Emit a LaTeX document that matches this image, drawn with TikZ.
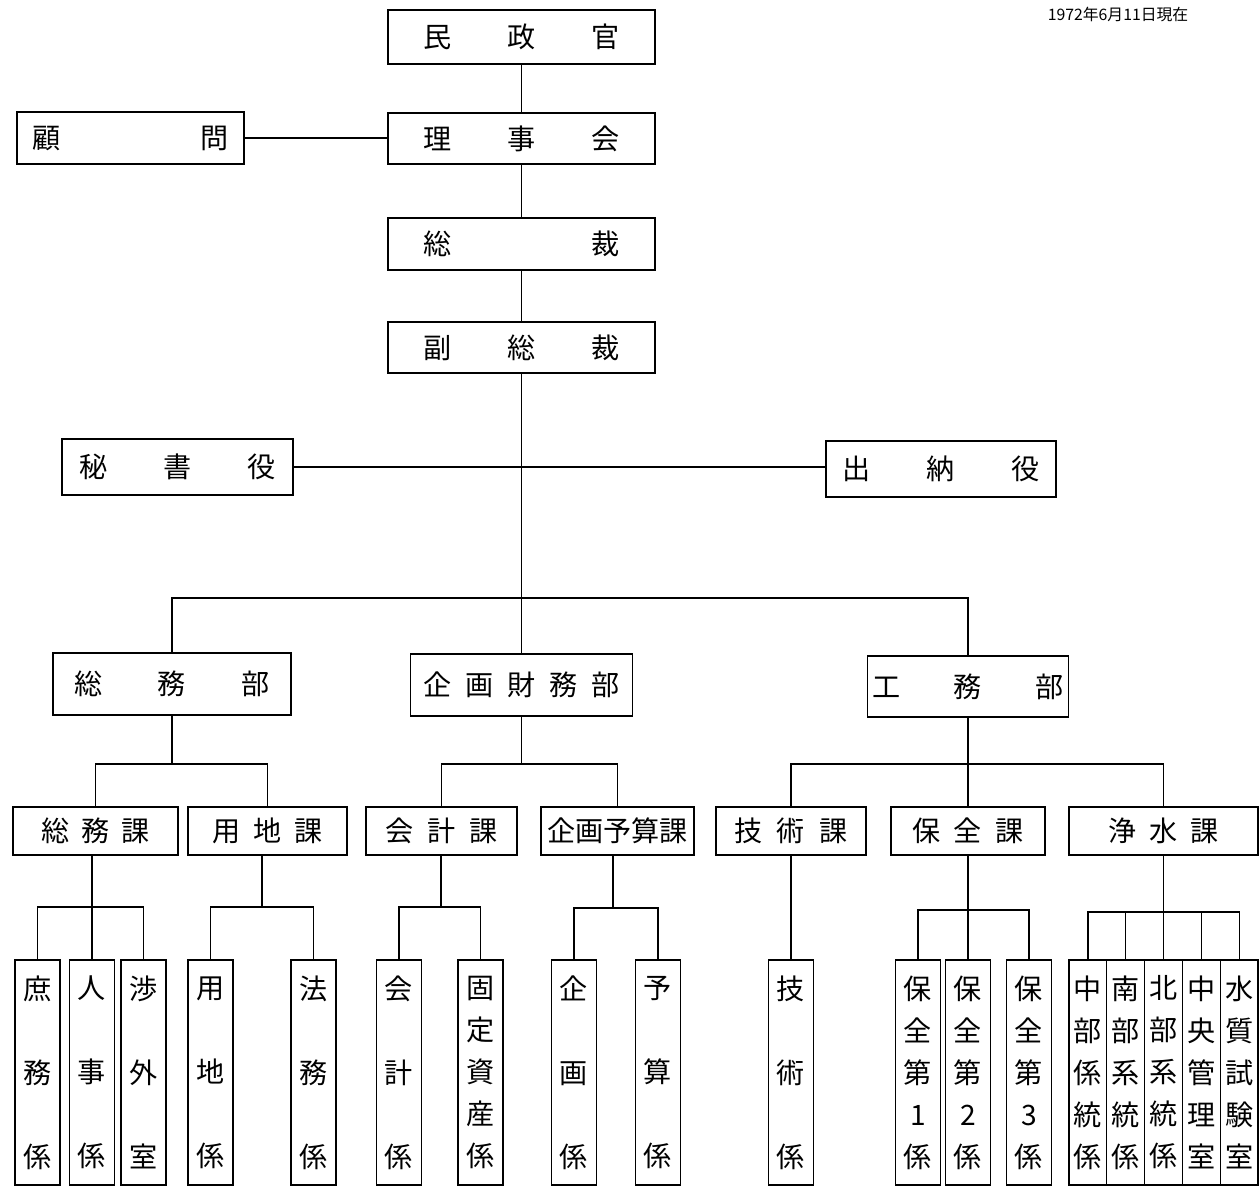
\documentclass[tikz,border=0pt]{standalone}
\usepackage{fontspec}
\setmainfont{Noto Sans CJK JP}
\newcommand{\sprd}[2]{\makebox[#1][s]{#2}}
\tikzset{
  unit/.style={draw, line width=0.7pt, inner sep=0pt, font=\fontsize{16}{19}\selectfont},
  kakari/.style={unit, minimum width=0.9cm, minimum height=4.5cm, align=center, font=\fontsize{16}{47.8}\selectfont},
  kakarifive/.style={kakari, font=\fontsize{16}{23.9}\selectfont},
  wire/.style={line width=0.7pt},
}
\begin{document}
\begin{tikzpicture}[x=0.02cm, y=-0.02cm]
  \useasboundingbox (0,0) rectangle (1260,1188);
  \node[font=\fontsize{9}{11}\selectfont, anchor=north] (asof) at (1118,1) {1972年6月11日現在};
  % top of the chain
  \node[unit, minimum width=5.34cm, minimum height=1.08cm] (minsei) at (521.5,37) {\sprd{3.92cm}{民\hfill 政\hfill 官}};
  \node[unit, minimum width=5.34cm, minimum height=1.02cm] (rijikai) at (521.5,138.5) {\sprd{3.92cm}{理\hfill 事\hfill 会}};
  \node[unit, minimum width=4.54cm, minimum height=1.04cm] (komon) at (130.5,138) {\sprd{3.94cm}{顧\hfill 問}};
  \node[unit, minimum width=5.34cm, minimum height=1.04cm] (sousai) at (521.5,244) {\sprd{3.92cm}{総\hfill 裁}};
  \node[unit, minimum width=5.34cm, minimum height=1.02cm] (fukusousai) at (521.5,347.5) {\sprd{3.92cm}{副\hfill 総\hfill 裁}};
  \node[unit, minimum width=4.62cm, minimum height=1.12cm] (hisho) at (177.5,467) {\sprd{3.92cm}{秘\hfill 書\hfill 役}};
  \node[unit, minimum width=4.6cm, minimum height=1.12cm] (suitou) at (941,469) {\sprd{3.94cm}{出\hfill 納\hfill 役}};
  \draw[wire] (minsei) -- (rijikai);
  \draw[wire] (komon.east) -- (komon.east -| rijikai.west);
  \draw[wire] (rijikai) -- (sousai);
  \draw[wire] (sousai) -- (fukusousai);
  \coordinate (bus1) at (521.5,598);
  \draw[wire] (fukusousai.south) -- (bus1);
  \draw[wire] (hisho.east) -- (hisho.east -| suitou.west);
  % departments
  \node[unit, minimum width=4.76cm, minimum height=1.24cm] (soumubu) at (172,684) {\sprd{3.92cm}{総\hfill 務\hfill 部}};
  \node[unit, minimum width=4.44cm, minimum height=1.24cm] (kikakubu) at (521.5,685) {\sprd{3.94cm}{企\hfill 画\hfill 財\hfill 務\hfill 部}};
  \node[unit, minimum width=4.02cm, minimum height=1.22cm] (koumubu) at (968,686.5) {\sprd{3.84cm}{工\hfill 務\hfill 部}};
  \draw[wire] (soumubu.north) |- (bus1) -| (koumubu.north);
  \draw[wire] (bus1) -- (kikakubu.north);
  % sections
  \node[unit, minimum width=3.3cm, minimum height=0.96cm] (soumuka) at (95.5,831) {\sprd{2.18cm}{総\hfill 務\hfill 課}};
  \node[unit, minimum width=3.18cm, minimum height=0.96cm] (youchika) at (267.5,831) {\sprd{2.22cm}{用\hfill 地\hfill 課}};
  \node[unit, minimum width=3.02cm, minimum height=0.96cm] (kaikeika) at (441.5,831) {\sprd{2.24cm}{会\hfill 計\hfill 課}};
  \node[unit, minimum width=3.06cm, minimum height=0.96cm] (yosanka) at (617.5,831) {企画予算課};
  \node[unit, minimum width=3.0cm, minimum height=0.96cm] (gijutsuka) at (791,831) {\sprd{2.28cm}{技\hfill 術\hfill 課}};
  \node[unit, minimum width=3.08cm, minimum height=0.96cm] (hozenka) at (968,831) {\sprd{2.22cm}{保\hfill 全\hfill 課}};
  \node[unit, minimum width=3.78cm, minimum height=0.96cm] (jousuika) at (1163.5,831) {\sprd{2.2cm}{浄\hfill 水\hfill 課}};
  \coordinate (b2a) at (172,764);
  \coordinate (b2b) at (521.5,764);
  \coordinate (b2c) at (968,764);
  \draw[wire] (soumubu.south) -- (b2a);
  \draw[wire] (soumuka.north) |- (b2a) -| (youchika.north);
  \draw[wire] (kikakubu.south) -- (b2b);
  \draw[wire] (kaikeika.north) |- (b2b) -| (yosanka.north);
  \draw[wire] (koumubu.south) -- (hozenka.north);
  \draw[wire] (gijutsuka.north) |- (b2c) -| (jousuika.north);
  % units
  \node[kakari] (shomu) at (37.5,1072.5) {庶\\務\\係};
  \node[kakari] (jinji) at (92,1072.5) {人\\事\\係};
  \node[kakari] (shougai) at (143.5,1072.5) {渉\\外\\室};
  \node[kakari] (youchi) at (210.5,1072.5) {用\\地\\係};
  \node[kakari] (houmu) at (313.5,1072.5) {法\\務\\係};
  \node[kakari] (kaikei) at (399,1072.5) {会\\計\\係};
  \node[kakarifive] (kotei) at (480.5,1072.5) {固\\定\\資\\産\\係};
  \node[kakari] (kikaku) at (574,1072.5) {企\\画\\係};
  \node[kakari] (yosan) at (658,1072.5) {予\\算\\係};
  \node[kakari] (gijutsu) at (791,1072.5) {技\\術\\係};
  \node[kakarifive] (hozen1) at (918,1072.5) {保\\全\\第\\1\\係};
  \node[kakarifive] (hozen2) at (968,1072.5) {保\\全\\第\\2\\係};
  \node[kakarifive] (hozen3) at (1029,1072.5) {保\\全\\第\\3\\係};
  \node[kakarifive, minimum width=0.756cm] (chubu) at (1087.9,1072.5) {中\\部\\係\\統\\係};
  \node[kakarifive, minimum width=0.756cm] (nanbu) at (1125.7,1072.5) {南\\部\\系\\統\\係};
  \node[kakarifive, minimum width=0.756cm] (hokubu) at (1163.5,1072.5) {北\\部\\系\\統\\係};
  \node[kakarifive, minimum width=0.756cm] (chuou) at (1201.3,1072.5) {中\\央\\管\\理\\室};
  \node[kakarifive, minimum width=0.756cm] (suishitsu) at (1239.1,1072.5) {水\\質\\試\\験\\室};
  \coordinate (b3a) at (92,907);
  \coordinate (b3b) at (262,907);
  \coordinate (b3c) at (441,907);
  \coordinate (b3d) at (613,908);
  \coordinate (b3f) at (968,910);
  \coordinate (b3g) at (1163.5,912);
  \draw[wire] (jinji.north |- soumuka.south) -- (jinji.north);
  \draw[wire] (shomu.north) |- (b3a) -| (shougai.north);
  \draw[wire] (b3b |- youchika.south) -- (b3b);
  \draw[wire] (youchi.north) |- (b3b) -| (houmu.north);
  \draw[wire] (b3c |- kaikeika.south) -- (b3c);
  \draw[wire] (kaikei.north) |- (b3c) -| (kotei.north);
  \draw[wire] (b3d |- yosanka.south) -- (b3d);
  \draw[wire] (kikaku.north) |- (b3d) -| (yosan.north);
  \draw[wire] (gijutsuka) -- (gijutsu);
  \draw[wire] (hozenka) -- (hozen2);
  \draw[wire] (hozen1.north) |- (b3f) -| (hozen3.north);
  \draw[wire] (jousuika) -- (hokubu);
  \draw[wire] (chubu.north) |- (b3g) -| (suishitsu.north);
  \draw[wire] (nanbu.north) -- (nanbu.north |- b3g);
  \draw[wire] (chuou.north) -- (chuou.north |- b3g);
\end{tikzpicture}
\end{document}
